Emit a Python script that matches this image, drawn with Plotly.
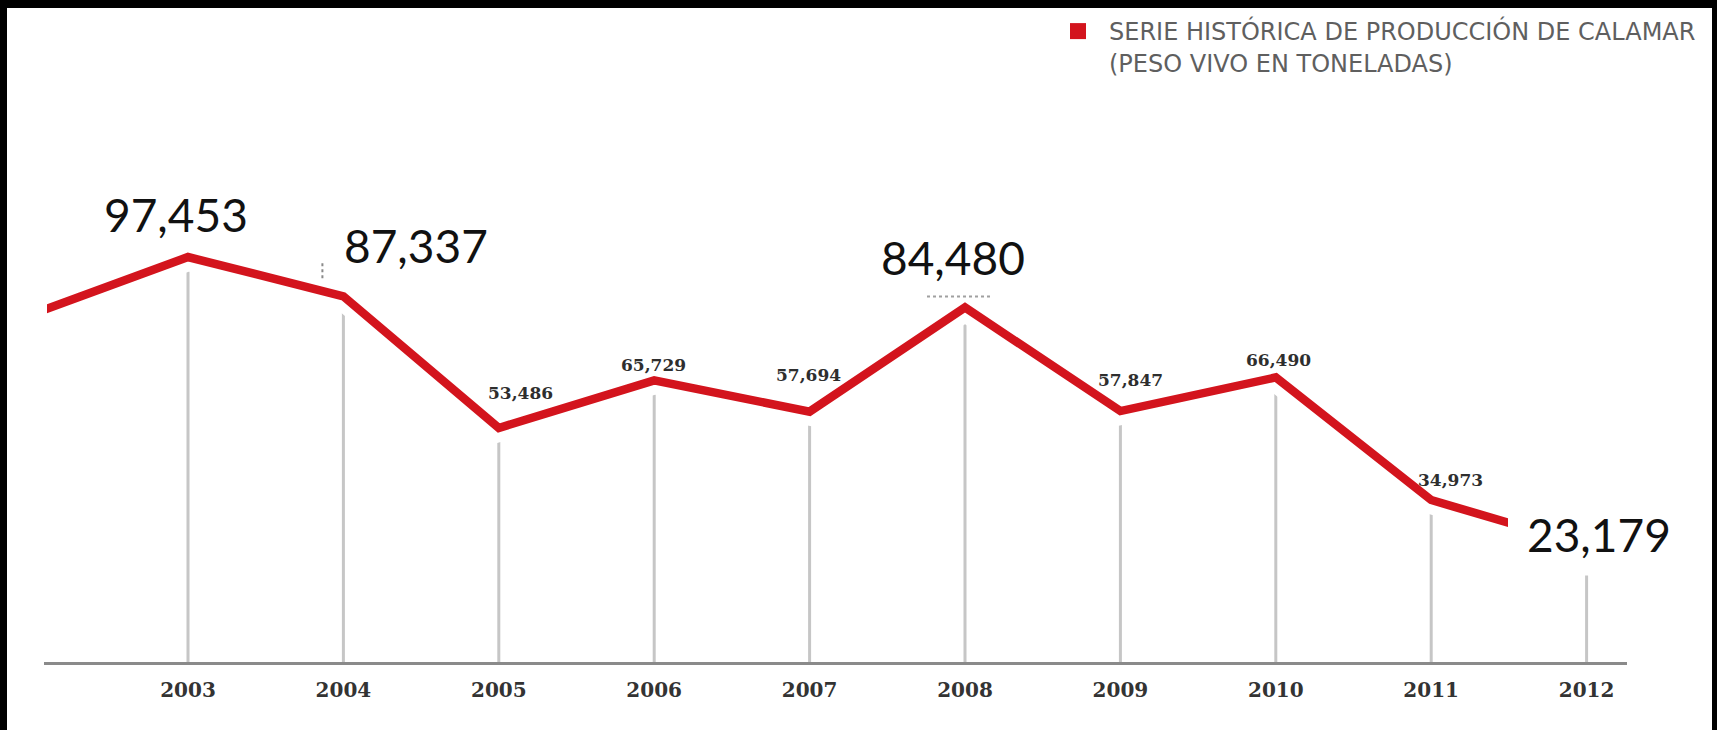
import plotly.graph_objects as go

# ---------------- data ----------------
years = [2002, 2003, 2004, 2005, 2006, 2007, 2008, 2009, 2010, 2011, 2012]
production = [82800, 97453, 87337, 53486, 65729, 57694, 84480, 57847, 66490, 34973, 23179]
tick_years = [2003, 2004, 2005, 2006, 2007, 2008, 2009, 2010, 2011, 2012]
value_labels = ["", "97,453", "87,337", "53,486", "65,729", "57,694", "84,480",
                "57,847", "66,490", "34,973", "23,179"]
series_name = "SERIE HISTÓRICA DE PRODUCCIÓN DE CALAMAR<br>(PESO VIVO EN TONELADAS)"

# ---------------- layout geometry (pixels) ----------------
W, H = 1717, 730
ML, MR, MT, MB = 44, 90, 100, 68
PW, PH = W - ML - MR, H - MT - MB
PX_PER_YEAR = 155.4
X2003_PX = 188
PX_PER_UNIT = 0.003889
ZERO_PX = 636
AXIS_PX = H - MB

x_range = [2003 - (X2003_PX - ML) / PX_PER_YEAR, 2003 + (W - MR - X2003_PX) / PX_PER_YEAR]
y_range = [-(AXIS_PX - ZERO_PX) / PX_PER_UNIT, (ZERO_PX - MT) / PX_PER_UNIT]

LINE_L, LINE_R = 47, 1508
x2_domain = [(LINE_L - ML) / PW, (LINE_R - ML) / PW]
x2_range = [2003 - (X2003_PX - LINE_L) / PX_PER_YEAR, 2003 + (LINE_R - X2003_PX) / PX_PER_YEAR]


def fx(px):
    return (px - ML) / PW


def fy(py):
    return 1 - (py - MT) / PH


RED = "#d3141d"

fig = go.Figure()

# stems
stem_x, stem_y = [], []
for yr, v in zip(years, production):
    if yr in tick_years:
        stem_x += [yr, yr, None]
        stem_y += [y_range[0], v, None]
fig.add_trace(go.Scatter(x=stem_x, y=stem_y, mode="lines",
                         line=dict(color="#c6c6c6", width=3),
                         hoverinfo="skip", showlegend=False))

# white halo + red line (clipped subplot)
fig.add_trace(go.Scatter(x=years, y=production, mode="lines", xaxis="x2", yaxis="y",
                         line=dict(color="white", width=28),
                         hoverinfo="skip", showlegend=False))
fig.add_trace(go.Scatter(x=years, y=production, mode="lines", xaxis="x2", yaxis="y",
                         line=dict(color=RED, width=8.5),
                         name=series_name, showlegend=False))

# legend entry
fig.add_trace(go.Scatter(x=[None], y=[None], mode="markers",
                         marker=dict(symbol="square", color=RED, size=16),
                         name=series_name, showlegend=True))

# value labels
big = {2003, 2004, 2008, 2012}
offsets = {2003: (-12, 43), 2004: (73, 51), 2005: (22, 35), 2006: (-1, 15),
           2007: (-1, 37), 2008: (-12, 50), 2009: (10, 31), 2010: (3, 17),
           2011: (19, 20), 2012: (12, 11)}
for yr, v, lab in zip(years, production, value_labels):
    if not lab:
        continue
    dx, dy = offsets[yr]
    if yr in big:
        font = dict(family="Lato", size=46, color="#111111", weight=400)
    else:
        font = dict(family="DejaVu Serif", size=17, color="#2e2e2e", weight="bold")
    ann = dict(x=yr, y=v, xref="x", yref="y", text=lab, showarrow=False,
               xshift=dx, yshift=dy, font=font)
    if yr == 2012:
        ann.update(bgcolor="white", borderpad=13)
    fig.add_annotation(**ann)

shapes = [
    # remnants of hidden labels
    dict(type="line", xref="x", yref="y", xsizemode="pixel", ysizemode="pixel",
         xanchor=2004, yanchor=87337, x0=-21, x1=-21, y0=18, y1=34,
         line=dict(color="#8a8a8a", width=2, dash="dot")),
    dict(type="line", xref="x", yref="y", xsizemode="pixel", ysizemode="pixel",
         xanchor=2008, yanchor=84480, x0=-38, x1=28, y0=11, y1=11,
         line=dict(color="#a0a0a0", width=2, dash="dot")),
    # black frame
    dict(type="rect", xref="paper", yref="paper", x0=fx(-5), x1=fx(7), y0=fy(H + 5), y1=fy(-5),
         fillcolor="black", line=dict(width=0), layer="above"),
    dict(type="rect", xref="paper", yref="paper", x0=fx(-5), x1=fx(W + 5), y0=fy(8), y1=fy(-5),
         fillcolor="black", line=dict(width=0), layer="above"),
    dict(type="rect", xref="paper", yref="paper", x0=fx(1712), x1=fx(W + 5), y0=fy(H + 5), y1=fy(-5),
         fillcolor="black", line=dict(width=0), layer="above"),
]

fig.update_layout(
    width=W, height=H,
    margin=dict(l=ML, r=MR, t=MT, b=MB, autoexpand=False),
    paper_bgcolor="white",
    plot_bgcolor="rgba(0,0,0,0)",
    showlegend=True,
    legend=dict(x=fx(1047), y=fy(9), xanchor="left", yanchor="top",
                valign="top", bgcolor="rgba(0,0,0,0)", borderwidth=0,
                itemwidth=52,
                font=dict(family="DejaVu Sans", size=24, color="#5f5f5f"),
                itemclick=False, itemdoubleclick=False),
    xaxis=dict(range=x_range, tickmode="array", tickvals=tick_years,
               ticktext=[str(t) for t in tick_years],
               showgrid=False, zeroline=False, showline=True,
               linecolor="#8a8a8a", linewidth=3, ticks="",
               ticklabelstandoff=8,
               tickfont=dict(family="DejaVu Serif", size=20, color="#333333", weight="bold"),
               fixedrange=True),
    xaxis2=dict(domain=x2_domain, range=x2_range, anchor="y", visible=False,
                showgrid=False, zeroline=False, fixedrange=True),
    yaxis=dict(range=y_range, visible=False, showgrid=False, zeroline=False, fixedrange=True),
    shapes=shapes,
)

fig.write_html("out.html", config={"displayModeBar": False},
               post_script="document.body.style.margin='0';document.body.style.overflow='hidden';")
